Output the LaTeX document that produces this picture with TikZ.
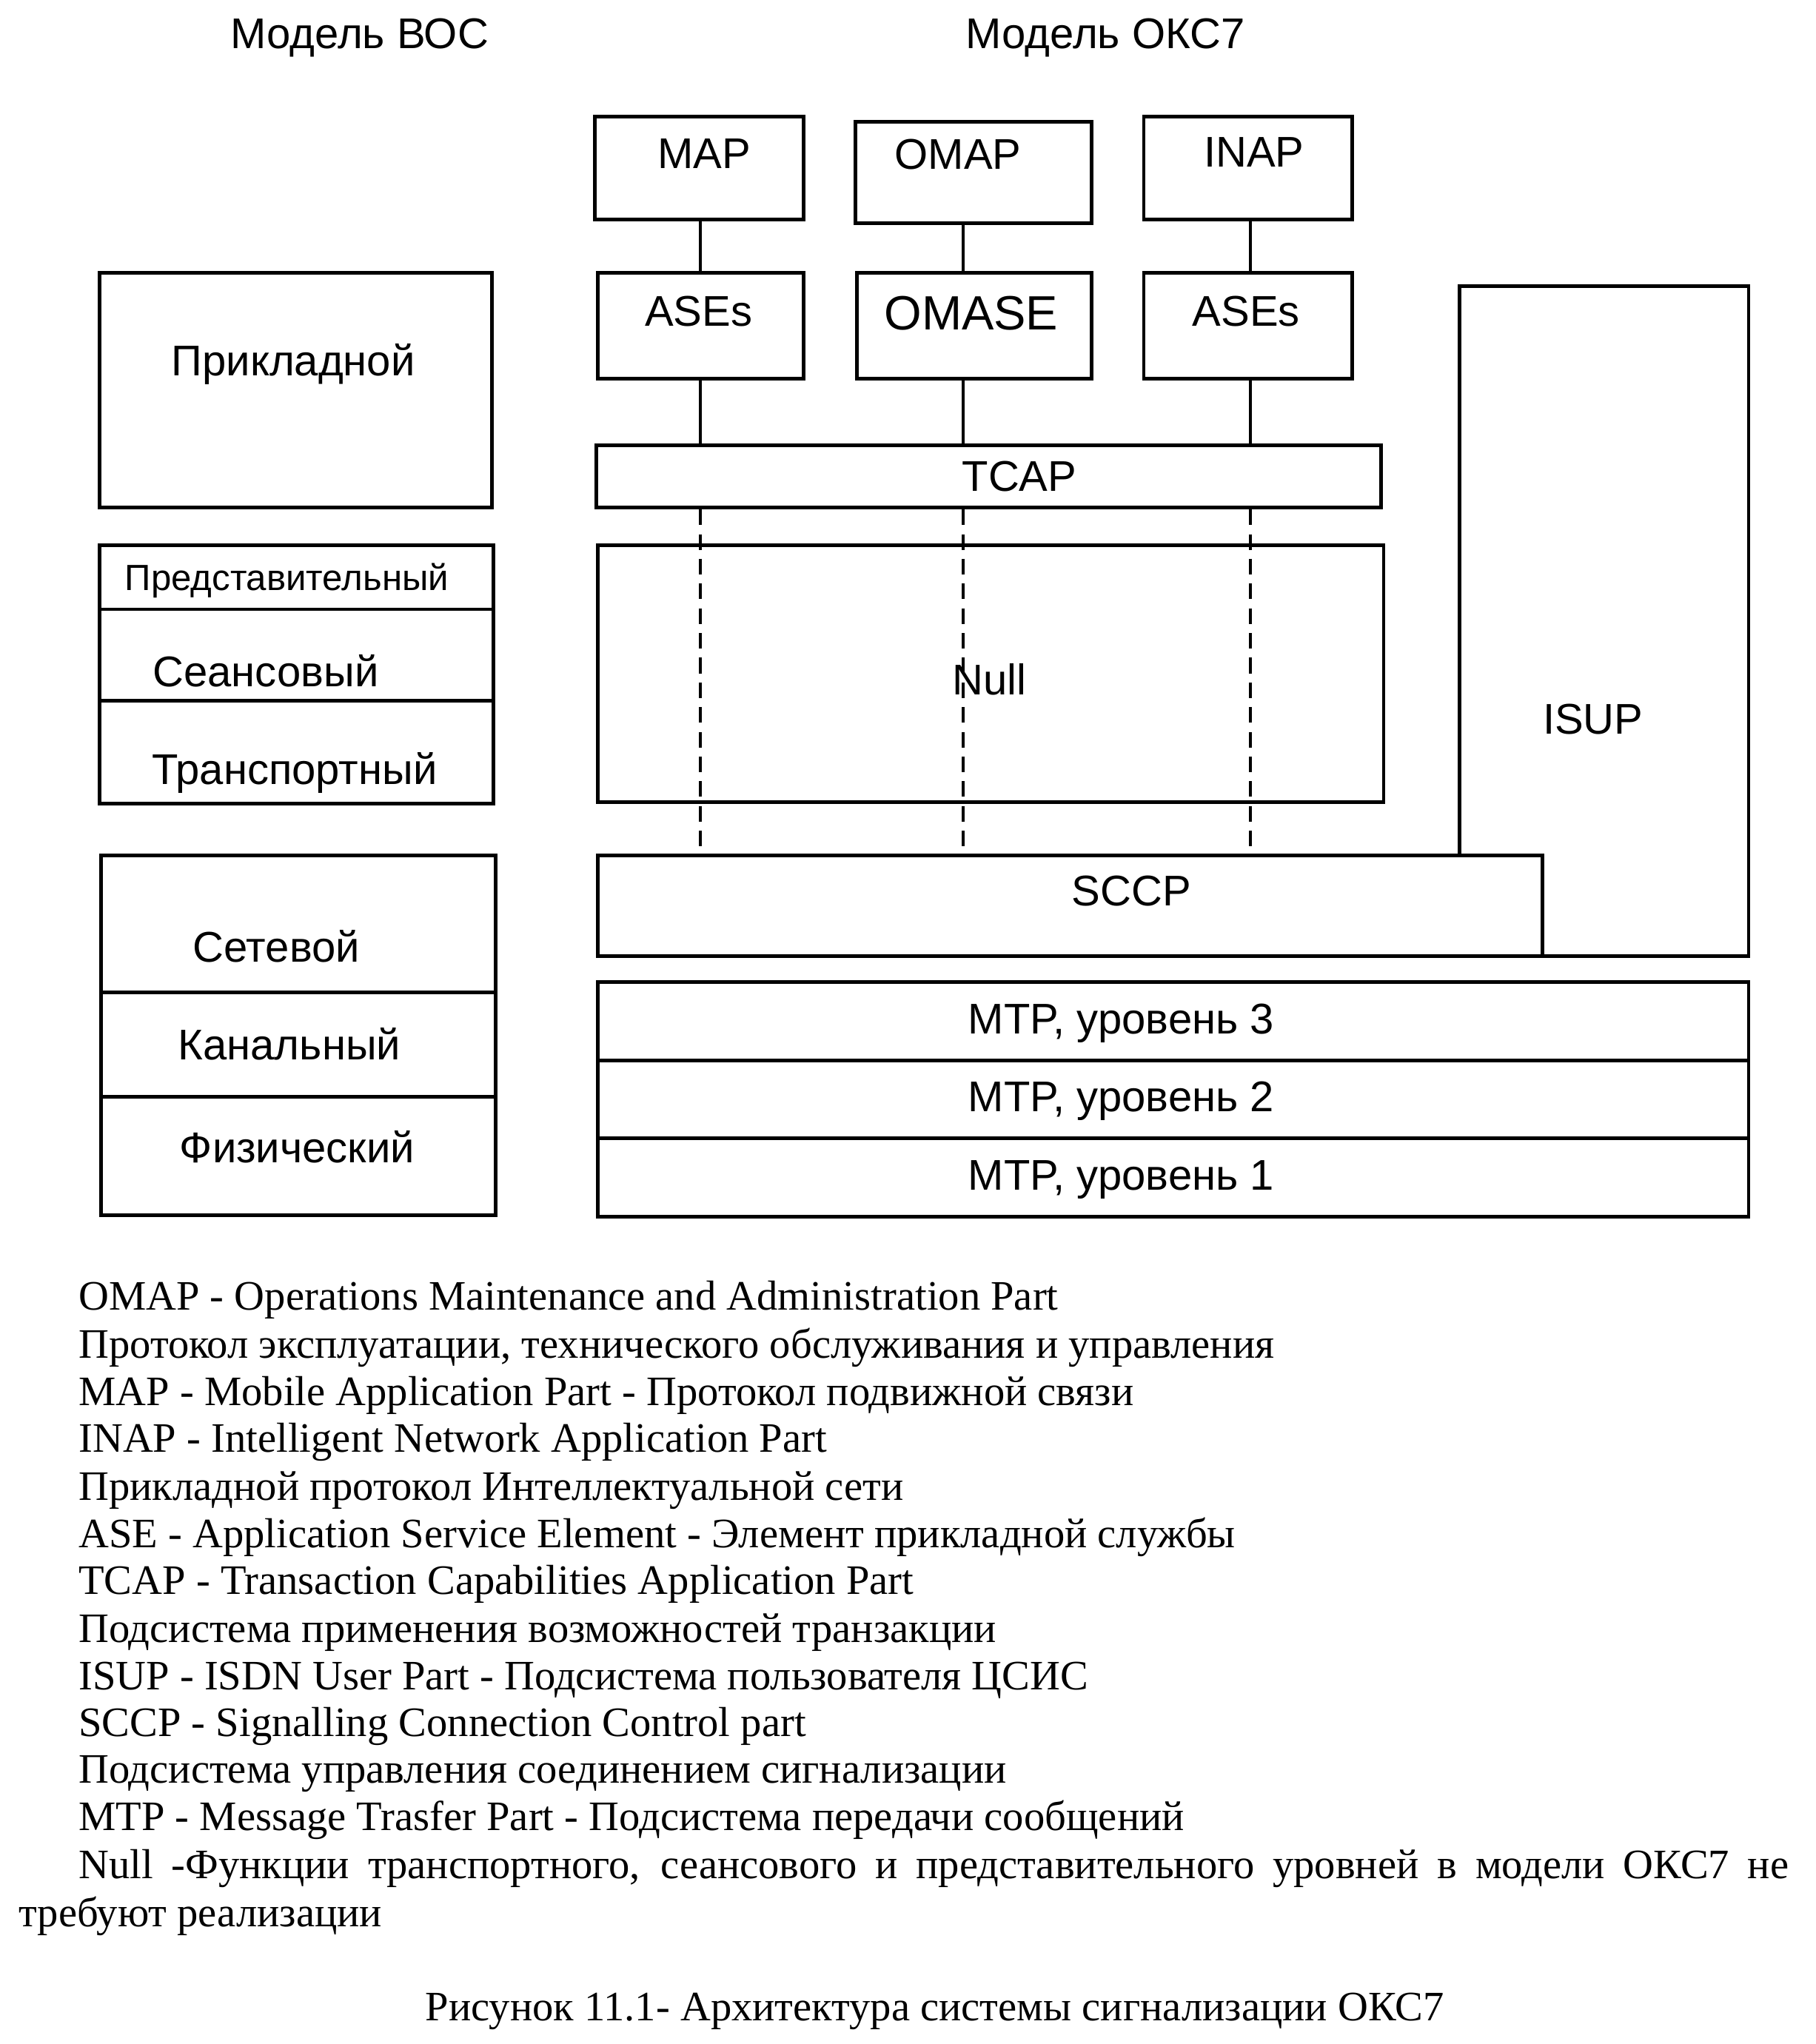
\documentclass[tikz,border=0pt]{standalone}
\usepackage{fontspec}
\setmainfont{Liberation Serif}
\setsansfont{Liberation Sans}
\newcommand{\pxu}{0.01761cm}
\tikzset{
	,box/.style    = {draw, line width=1.4pt, anchor=north west, inner sep=0pt}
	,lbl/.style    = {font=\sffamily\fontsize{16.5}{20}\selectfont, inner sep=0pt, text height=12pt, text depth=0pt}
	,conn/.style   = {-, line width=1.1pt}
	,dconn/.style  = {-, line width=1.1pt, dash pattern=on 6pt off 3.5pt}
	,legend/.style = {font=\fontsize{16.1}{18}\selectfont, anchor=base west, inner sep=0pt}
}
\begin{document}
\begin{tikzpicture}[x=\pxu, y=-\pxu]
	\useasboundingbox (0,0) rectangle (1393,1568);
	% headings
	\node[lbl] at (276,25) (osi) {Модель ВОС};
	\node[lbl] at (848,25) (ss7) {Модель ОКС7};
	% OSI stack
	\node[box, minimum width=301*\pxu, minimum height=180*\pxu] at (75,208) (app) {};
	\node[box, minimum width=302*\pxu, minimum height=49*\pxu]  at (75,417) (pres) {};
	\node[box, minimum width=302*\pxu, minimum height=70*\pxu]  at (75,466) (sess) {};
	\node[box, minimum width=302*\pxu, minimum height=79*\pxu]  at (75,536) (trans) {};
	\node[box, minimum width=303*\pxu, minimum height=105*\pxu] at (76,655) (net) {};
	\node[box, minimum width=303*\pxu, minimum height=80*\pxu]  at (76,760) (link) {};
	\node[box, minimum width=303*\pxu, minimum height=91*\pxu]  at (76,840) (phys) {};
	\node[lbl] at (225,276) (app-l) {Прикладной};
	\node[lbl, font=\sffamily\fontsize{14}{17}\selectfont] at (220,441) (pres-l) {Представительный};
	\node[lbl] at (204,515) (sess-l) {Сеансовый};
	\node[lbl] at (226,590) (trans-l) {Транспортный};
	\node[lbl] at (212,726) (net-l) {Сетевой};
	\node[lbl] at (222,801) (link-l) {Канальный};
	\node[lbl] at (228,880) (phys-l) {Физический};
	% SS7 stack
	\node[box, minimum width=160*\pxu, minimum height=79*\pxu]  at (455,88)  (map) {};
	\node[box, minimum width=181*\pxu, minimum height=78*\pxu]  at (655,92)  (omap) {};
	\node[box, minimum width=160*\pxu, minimum height=79*\pxu]  at (876,88)  (inap) {};
	\node[box, minimum width=158*\pxu, minimum height=81*\pxu]  at (457,208) (ases1) {};
	\node[box, minimum width=180*\pxu, minimum height=81*\pxu]  at (656,208) (omase) {};
	\node[box, minimum width=160*\pxu, minimum height=81*\pxu]  at (876,208) (ases2) {};
	\node[box, minimum width=602*\pxu, minimum height=48*\pxu]  at (456,340) (tcap) {};
	\node[box, minimum width=603*\pxu, minimum height=197*\pxu] at (457,417) (null) {};
	\node[box, minimum width=222*\pxu, minimum height=514*\pxu] at (1118,218) (isup) {};
	\node[box, fill=white, minimum width=725*\pxu, minimum height=77*\pxu] at (457,655) (sccp) {};
	\node[box, minimum width=883*\pxu, minimum height=60*\pxu]  at (457,752) (mtp3) {};
	\node[box, minimum width=883*\pxu, minimum height=60*\pxu]  at (457,812) (mtp2) {};
	\node[box, minimum width=883*\pxu, minimum height=60*\pxu]  at (457,872) (mtp1) {};
	\node[lbl] at (540,117)  (map-l) {MAP};
	\node[lbl] at (735,118)  (omap-l) {OMAP};
	\node[lbl] at (962,116)  (inap-l) {INAP};
	\node[lbl] at (536,238)  (ases1-l) {ASEs};
	\node[lbl, font=\sffamily\fontsize{18.5}{22}\selectfont] at (745,241) (omase-l) {OMASE};
	\node[lbl] at (956,238)  (ases2-l) {ASEs};
	\node[lbl] at (782,365)  (tcap-l) {TCAP};
	\node[lbl] at (759,521)  (null-l) {Null};
	\node[lbl] at (1222,551) (isup-l) {ISUP};
	\node[lbl] at (868,683)  (sccp-l) {SCCP};
	\node[lbl] at (860,781)  (mtp3-l) {MTP, уровень 3};
	\node[lbl] at (860,841)  (mtp2-l) {MTP, уровень 2};
	\node[lbl] at (860,901)  (mtp1-l) {MTP, уровень 1};
	% columns of the links
	\coordinate (col1) at (537,0);
	\coordinate (col2) at (739,0);
	\coordinate (col3) at (959,0);
	\draw[conn] (map.south -| col1) -- (ases1.north -| col1);
	\draw[conn] (omap.south -| col2) -- (omase.north -| col2);
	\draw[conn] (inap.south -| col3) -- (ases2.north -| col3);
	\draw[conn] (ases1.south -| col1) -- (tcap.north -| col1);
	\draw[conn] (omase.south -| col2) -- (tcap.north -| col2);
	\draw[conn] (ases2.south -| col3) -- (tcap.north -| col3);
	\draw[dconn] (tcap.south -| col1) -- (sccp.north -| col1);
	\draw[dconn] (tcap.south -| col2) -- (sccp.north -| col2);
	\draw[dconn] (tcap.south -| col3) -- (sccp.north -| col3);
	% legend
	\node[legend] at (60,1005) (leg1)  {OMAP - Operations Maintenance and Administration Part};
	\node[legend] at (60,1042) (leg2)  {Протокол эксплуатации, технического обслуживания и управления};
	\node[legend] at (60,1078) (leg3)  {MAP - Mobile Application Part - Протокол подвижной связи};
	\node[legend] at (60,1114) (leg4)  {INAP - Intelligent Network Application Part};
	\node[legend] at (60,1151) (leg5)  {Прикладной протокол Интеллектуальной сети};
	\node[legend] at (60,1187) (leg6)  {ASE - Application Service Element - Элемент прикладной службы};
	\node[legend] at (60,1223) (leg7)  {TCAP - Transaction Capabilities Application Part};
	\node[legend] at (60,1260) (leg8)  {Подсистема применения возможностей транзакции};
	\node[legend] at (60,1296) (leg9)  {ISUP - ISDN User Part - Подсистема пользователя ЦСИС};
	\node[legend] at (60,1332) (leg10) {SCCP - Signalling Connection Control part};
	\node[legend] at (60,1368) (leg11) {Подсистема управления соединением сигнализации};
	\node[legend] at (60,1404) (leg12) {MTP - Message Trasfer Part - Подсистема передачи сообщений};
	\node[legend] at (60,1441) (leg13) {\makebox[23.1cm][s]{Null -Функции транспортного, сеансового и представительного уровней в модели ОКС7 не}};
	\node[legend] at (14,1478) (leg14) {требуют реализации};
	\node[legend, anchor=base] at (717,1550) (caption) {Рисунок 11.1- Архитектура системы сигнализации ОКС7};
\end{tikzpicture}
\end{document}
